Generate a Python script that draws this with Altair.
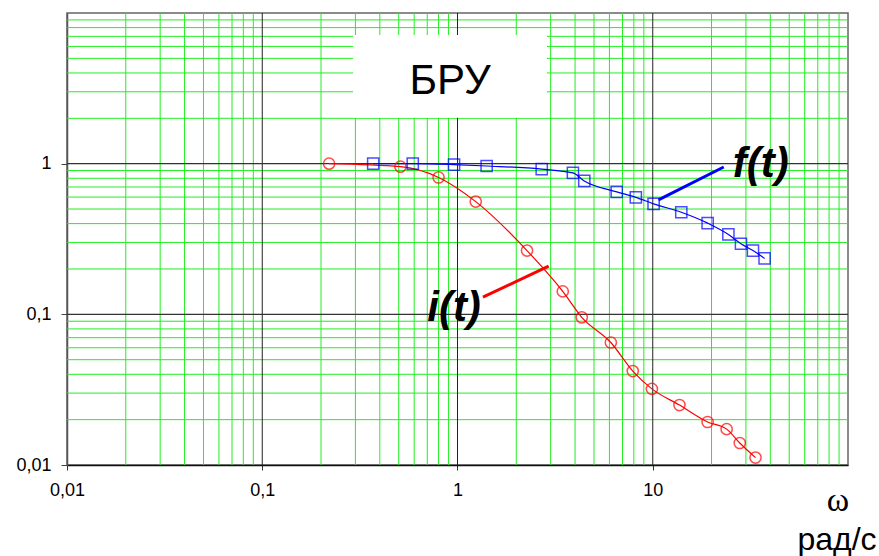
import altair as alt
import pandas as pd

# ---- data ----
i_w = [0.22, 0.51, 0.80, 1.24, 2.27, 3.46, 4.33, 6.1, 7.9, 9.9, 13.7, 19.1, 23.9, 27.9, 33.6]
i_v = [1.0, 0.955, 0.81, 0.56, 0.265, 0.142, 0.0955, 0.065, 0.042, 0.032, 0.025, 0.0193, 0.0173, 0.014, 0.0112]

f_w = [0.37, 0.59, 0.96, 1.41, 2.70, 3.90, 4.46, 6.54, 8.19, 10.1, 14.0, 19.1, 24.4, 28.3, 32.6, 37.4]
f_v = [1.0, 1.0, 0.985, 0.965, 0.92, 0.868, 0.768, 0.65, 0.598, 0.541, 0.476, 0.403, 0.339, 0.294, 0.265, 0.235]

x_major = [0.1, 1, 10]
y_major = [0.1, 1]
x_minor = [m * d for d in [0.01, 0.1, 1, 10] for m in range(2, 10)]
y_minor = [m * d for d in [0.01, 0.1, 1] for m in range(2, 10)]
x_ticks = [0.01, 0.1, 1, 10]
y_ticks = [0.01, 0.1, 1]

lbl_text = ["i(t)", "f(t)"]
lbl_x = [0.96, 35.7]
lbl_y = [0.111, 1.0]

ptr_x = [1.35, 10.7]
ptr_y = [0.130, 0.575]
ptr_x2 = [2.93, 23.1]
ptr_y2 = [0.209, 0.95]
ptr_col = ["#ff0000", "#0000ff"]

box_x = [0.292]
box_x2 = [2.87]
box_y = [2.02]
box_y2 = [7.15]
box_text = ["БРУ"]
box_tx = [0.916]
box_ty = [3.55]

# ---- tables ----
xs = alt.Scale(type="log", domain=[0.01, 100], nice=False)
ys = alt.Scale(type="log", domain=[0.01, 10], nice=False)

xa = alt.Axis(
    values=x_ticks, grid=False, title=None, labelExpr="replace(toString(datum.value), '.', ',')",
    labelFont="Liberation Sans", labelFontSize=18, labelColor="black", labelPadding=11,
    tickSize=5, tickColor="#333", domainColor="#111", domainWidth=1.3, labelFlush=False)
ya = alt.Axis(
    values=y_ticks, grid=False, title=None, labelExpr="replace(toString(datum.value), '.', ',')",
    labelFont="Liberation Sans", labelFontSize=18, labelColor="black", labelPadding=10,
    tickSize=6, tickColor="#444", domainColor="#555", domainWidth=1.5, labelFlush=False)

df_i = pd.DataFrame({"x": i_w, "y": i_v})
df_f = pd.DataFrame({"x": f_w, "y": f_v})
df_xmin = pd.DataFrame({"x": x_minor})
df_ymin = pd.DataFrame({"y": y_minor})
df_xmaj = pd.DataFrame({"x": x_major})
df_ymaj = pd.DataFrame({"y": y_major})
df_lbl = pd.DataFrame({"x": lbl_x, "y": lbl_y, "t": lbl_text})
df_ptr = pd.DataFrame({"x": ptr_x, "y": ptr_y, "x2": ptr_x2, "y2": ptr_y2, "c": ptr_col})
df_box = pd.DataFrame({"x": box_x, "x2": box_x2, "y": box_y, "y2": box_y2})
df_boxt = pd.DataFrame({"x": box_tx, "y": box_ty, "t": box_text})

X = lambda: alt.X("x:Q", scale=xs, axis=xa)
Y = lambda: alt.Y("y:Q", scale=ys, axis=ya)

grid_minor_x = alt.Chart(df_xmin).mark_rule(color="#22ee22", strokeWidth=1).encode(x=X())
grid_minor_y = alt.Chart(df_ymin).mark_rule(color="#22ee22", strokeWidth=1).encode(y=Y())
grid_major_x = alt.Chart(df_xmaj).mark_rule(color="#222222", strokeWidth=1).encode(x=X())
grid_major_y = alt.Chart(df_ymaj).mark_rule(color="#333333", strokeWidth=1.3).encode(y=Y())

box = alt.Chart(df_box).mark_rect(fill="white").encode(
    x=X(), x2="x2:Q", y=Y(), y2="y2:Q")
box_lbl = alt.Chart(df_boxt).mark_text(
    font="Liberation Sans", fontSize=42, color="black", align="center", baseline="middle"
).encode(x=X(), y=Y(), text="t:N")

line_i = alt.Chart(df_i).mark_line(color="#ff0000", strokeWidth=1.2, interpolate="monotone").encode(x=X(), y=Y())
line_f = alt.Chart(df_f).mark_line(color="#0000ff", strokeWidth=1.2, interpolate="monotone").encode(x=X(), y=Y())
pts_i = alt.Chart(df_i).mark_point(shape="circle", filled=False, color="#ff0000", size=125, strokeWidth=1.5).encode(x=X(), y=Y())
pts_f = alt.Chart(df_f).mark_point(shape="square", filled=False, color="#0000ff", size=125, strokeWidth=1.5).encode(x=X(), y=Y())

ptr = alt.Chart(df_ptr).mark_rule(strokeWidth=3).encode(
    x=X(), y=Y(), x2="x2:Q", y2="y2:Q", color=alt.Color("c:N", scale=None))
lbl = alt.Chart(df_lbl).mark_text(
    font="Liberation Sans", fontSize=42, fontWeight="bold", fontStyle="italic",
    color="black", align="center", baseline="middle"
).encode(x=X(), y=Y(), text="t:N")

t_omega = alt.Chart(df_i.head(1)).mark_text(
    text="ω", font="Liberation Serif", fontSize=34, color="black", align="center", baseline="middle"
).encode(x=alt.value(771), y=alt.value(488))
t_unit = alt.Chart(df_i.head(1)).mark_text(
    text="рад/с", font="Liberation Sans", fontSize=32, color="black", align="center", baseline="middle"
).encode(x=alt.value(770), y=alt.value(527))

chart = alt.layer(
    grid_minor_x, grid_minor_y, grid_major_x, grid_major_y, box, box_lbl,
    line_i, line_f, pts_i, pts_f, ptr, lbl, t_omega, t_unit
).properties(
    width=781, height=452,
    autosize=alt.AutoSizeParams(type="none"),
    padding={"left": 67, "top": 13, "right": 31, "bottom": 91},
    background="white",
).configure_view(stroke="#666666", strokeWidth=1.5)

chart.save("out.html", embed_options={"renderer": "svg", "actions": False})
